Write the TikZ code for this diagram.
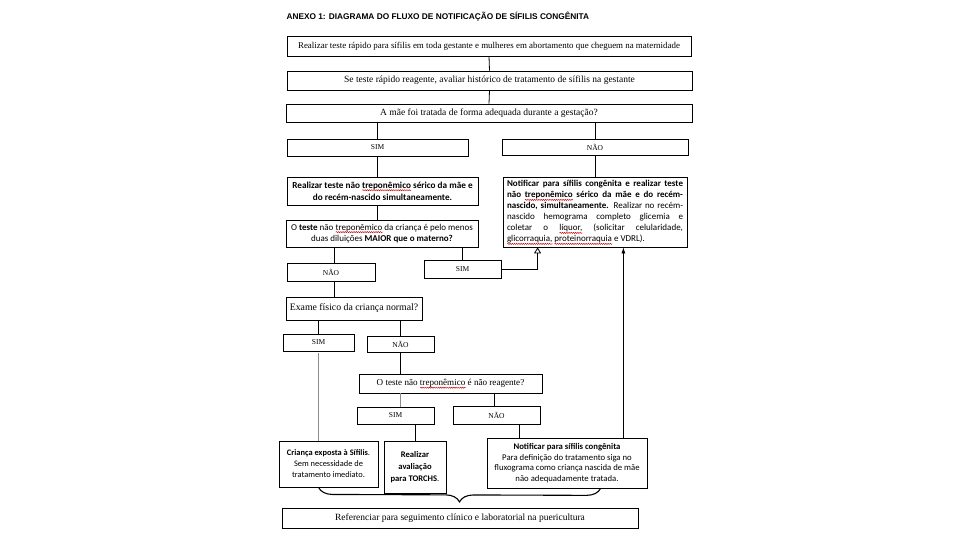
\documentclass[tikz,border=0pt]{standalone}
\usepackage{fontspec}
\setmainfont{Liberation Serif}
\newfontfamily\cali{Carlito}
\newfontfamily\arialf{Liberation Sans}
\usetikzlibrary{arrows.meta,decorations.pathreplacing,decorations.pathmorphing,calc}
\newsavebox\sqbox
\newlength\sqlen
\newcommand\squig[1]{\leavevmode\sbox\sqbox{#1}\setlength\sqlen{\wd\sqbox}\rlap{\smash{\tikz[baseline=0pt]{\draw[draw=red!80!black, line width=0.45pt, decorate, decoration={snake, amplitude=0.6pt, segment length=2.2pt}] (0pt,-2pt) -- (\sqlen,-2pt);}}}\usebox\sqbox}
\newcommand\jline[1]{\makebox[176pt][s]{\spaceskip=0pt\xspaceskip=0pt #1}}
\newcommand\nline[1]{\makebox[176pt][l]{\spaceskip=0pt\xspaceskip=0pt #1}}
\begin{document}
\begin{tikzpicture}[x=1pt,y=-1pt,
  box/.style={draw, line width=0.8pt, inner sep=1pt, align=center, anchor=center},
  lbl/.style={box, font=\fontsize{7.5}{8}\selectfont},
  serif/.style={box, font=\fontsize{9.5}{10}\selectfont},
  conn/.style={line width=0.8pt},
  grayconn/.style={line width=1.4pt, draw=black!45}]
\useasboundingbox[fill=white] (0,0) rectangle (960,540);

\node[anchor=west, font=\arialf\bfseries\fontsize{8.3}{9}\selectfont] (title) at (283,17) {ANEXO 1: DIAGRAMA DO FLUXO DE NOTIFICAÇÃO DE SÍFILIS CONGÊNITA};

\node[serif, minimum width=404, minimum height=20, font=\fontsize{8.9}{10}\selectfont] (b1) at (489,46) {Realizar teste rápido para sífilis em toda gestante e mulheres em abortamento que cheguem na maternidade};
\node[serif, minimum width=405, minimum height=19] (b2) at (489.5,80.5) {Se teste rápido reagente, avaliar histórico de tratamento de sífilis na gestante};
\node[serif, minimum width=406, minimum height=18] (b3) at (489,113) {A mãe foi tratada de forma adequada durante a gestação?};

\node[lbl, minimum width=181, minimum height=17] (sim1) at (377.5,147.5) {SIM};
\node[lbl, minimum width=186, minimum height=16] (nao1) at (595,147) {NÃO};

\node[box, minimum width=191, minimum height=28, font=\cali\bfseries\fontsize{9.2}{12}\selectfont] (real) at (382.5,191) {Realizar teste não \squig{treponêmico} sérico da mãe e\\do recém-nascido simultaneamente.};

\node[box, minimum width=184, minimum height=70, text width=176, align=left, inner xsep=3pt, inner ysep=1.5pt, font=\cali\fontsize{9}{11}\selectfont] (notif) at (595,212) {\jline{\textbf{Notificar para sífilis congênita e realizar teste}}\\
\jline{\textbf{não \squig{treponêmico} sérico da mãe e do recém-}}\\
\jline{\textbf{nascido, simultaneamente.} Realizar no recém-}\\
\jline{nascido hemograma completo glicemia e}\\
\jline{coletar o \squig{líquor,} (solicitar celularidade,}\\
\nline{\squig{glicorraquia,} \squig{proteinorraquia} e VDRL).}};

\node[box, minimum width=192, minimum height=27, font=\cali\fontsize{9}{11.5}\selectfont] (oteste) at (382,233.5) {O \textbf{teste} não \squig{treponêmico} da criança é pelo menos\\duas diluições \textbf{MAIOR que o materno?}};

\node[lbl, minimum width=88, minimum height=18] (nao2) at (331,272) {NÃO};
\node[lbl, minimum width=77, minimum height=18] (sim2) at (462.5,269) {SIM};

\node[box, minimum width=136, minimum height=23, font=\fontsize{9.8}{10}\selectfont] (exame) at (354,308.5) {Exame físico da criança normal?};

\node[lbl, minimum width=71, minimum height=17] (sim3) at (318.5,342.5) {SIM};
\node[lbl, minimum width=67, minimum height=16] (nao3) at (400.5,344) {NÃO};

\node[box, minimum width=183, minimum height=19, font=\fontsize{9.1}{10}\selectfont] (otnr) at (450.5,383.5) {O teste não \squig{treponêmico} é não reagente?};

\node[lbl, minimum width=77, minimum height=17] (sim4) at (395.5,415.5) {SIM};
\node[lbl, minimum width=87, minimum height=18] (nao4) at (496.5,415) {NÃO};

\node[box, minimum width=99, minimum height=46, font=\cali\fontsize{8.4}{11}\selectfont] (crianca) at (328.5,464) {\textbf{Criança exposta à Sífilis}.\\Sem necessidade de\\tratamento imediato.};
\node[box, minimum width=62, minimum height=52, font=\cali\fontsize{8.6}{12}\selectfont] (realav) at (415,467) {\textbf{Realizar}\\\textbf{avaliação}\\\textbf{para TORCHS}.};
\node[box, minimum width=160, minimum height=50, font=\cali\fontsize{8.7}{10.6}\selectfont] (notif2) at (567,463) {\textbf{Notificar para sífilis congênita}\\Para definição do tratamento siga no\\fluxograma como criança nascida de mãe\\não adequadamente tratada.};

\node[serif, minimum width=356, minimum height=20] (ref) at (460,518) {Referenciar para seguimento clínico e laboratorial na puericultura};

% connectors
\draw[conn] (b1.south) -- (b2.north);
\draw[conn] (b2.south) -- (b3.north);
\draw[conn] (sim1.north |- b3.south) -- (sim1.north);
\draw[conn] (nao1.north |- b3.south) -- (nao1.north);
\draw[conn] (sim1.south) -- (sim1.south |- real.north);
\draw[conn] (nao1.south) -- (nao1.south |- notif.north);
\draw[conn] (sim1.south |- real.south) -- (sim1.south |- oteste.north);
\coordinate (o2) at ($(nao2.north)+(3,0)$);
\draw[conn] (o2 |- oteste.south) -- (o2);
\draw[conn] (sim2.north |- oteste.south) -- (sim2.north);
\coordinate (tri) at ($(notif.south west)+(35,0)$);
\draw[conn, -{Triangle[open, length=6pt, width=7pt]}] (sim2.east) -| (tri);
\coordinate (up) at ($(notif2.north east)+(-24,0)$);
\draw[conn, -{Latex[length=6pt, width=4pt]}] (up) -- (up |- notif.south);
\draw[conn] (o2 |- nao2.south) -- (o2 |- exame.north);
\draw[conn] (sim3.north |- exame.south) -- (sim3.north);
\draw[conn] (nao3.north |- exame.south) -- (nao3.north);
\draw[conn] (nao3.south) -- (nao3.south |- otnr.north);
\coordinate (s3) at ($(sim3.south)+(0,2)$);
\draw[grayconn] (s3) -- (s3 |- crianca.north);
\draw[grayconn] (nao3.south |- otnr.south) -- (nao3.south |- sim4.north);
\coordinate (n4t) at ($(nao4.north)+(-2.5,0)$);
\draw[conn] (n4t |- otnr.south) -- (n4t);
\draw[conn] (sim4.south -| realav.north) -- (realav.north);
\coordinate (n4) at ($(nao4.south)+(22.5,0)$);
\draw[conn] (n4) -- (n4 |- notif2.north);

% brace
\coordinate (brL) at (sim3.south |- crianca.south);
\coordinate (brR) at ($(notif2.south west)+(114,0)$);
\draw[decorate, decoration={brace, mirror, amplitude=14pt}, line width=1.1pt] (brL) -- (brR);
\end{tikzpicture}
\end{document}
